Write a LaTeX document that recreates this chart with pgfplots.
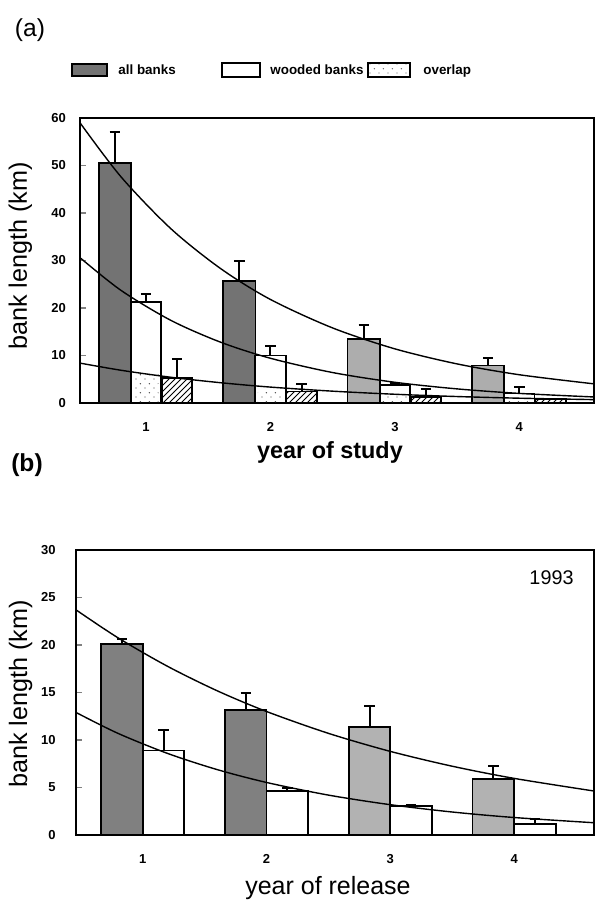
\documentclass[border=0pt]{standalone}
\usepackage{pgfplots}
\pgfplotsset{compat=1.18}
\usetikzlibrary{patterns}
\usepackage{fontspec}
\setmainfont{Liberation Sans}
\pgfdeclarepatternformonly{sparsedots}{\pgfpoint{-1pt}{-1pt}}{\pgfpoint{4pt}{4pt}}{\pgfpoint{4.5pt}{4.5pt}}{\pgfpathcircle{\pgfpoint{0.5pt}{0.5pt}}{0.35pt}\pgfpathcircle{\pgfpoint{2.7pt}{2.6pt}}{0.35pt}\pgfusepath{fill}}
\pgfplotsset{
  panel/.style={
    scale only axis, anchor=south west,
    axis line style={line width=0.8pt},
    xtick={1,2,3,4}, x tick style={draw=none},
    y tick style={line width=0.6pt}, major tick length=3pt,
    tick align=inside, ytick pos=left, xtick pos=bottom,
    /pgf/number format/assume math mode=true,
    ticklabel style={font=\bfseries\fontsize{6.5}{7}\selectfont},
    xticklabel style={yshift=-6pt},
    yticklabel style={xshift=-3.6pt},
    clip=true,
  },
  barstyle/.style={ybar, bar shift=0pt, draw=black, line width=0.9pt,
    error bars/y dir=plus, error bars/y explicit,
    error bars/error bar style={line width=1pt, black, solid},
    error bars/error mark options={rotate=90, line width=1pt, black, mark size=2.6pt}},
  curve/.style={smooth, black, line width=0.7pt, no markers},
}
\begin{document}
\begin{tikzpicture}
\useasboundingbox (0,0) rectangle (298pt,451pt);
% panel labels and legend
\node[font=\fontsize{12.3}{14}\selectfont] at (15pt,436pt) {(a)};
\node[font=\bfseries\fontsize{12.3}{14}\selectfont] at (13.5pt,218.5pt) {(b)};
\fill[black!55] (36pt,413pt) rectangle (53.5pt,419pt);
\draw[line width=0.6pt] (36pt,413pt) rectangle (53.5pt,419pt);
\node[anchor=base west, inner sep=0pt, font=\bfseries\fontsize{6.7}{8}\selectfont] at (59pt,413.5pt) {all banks};
\draw[line width=0.6pt] (111pt,412.5pt) rectangle (130pt,419.5pt);
\node[anchor=base west, inner sep=0pt, font=\bfseries\fontsize{6.7}{8}\selectfont] at (135pt,413.5pt) {wooded banks};
\draw[line width=0.6pt, pattern=sparsedots, pattern color=black!60] (184pt,412.5pt) rectangle (205pt,419.5pt);
\node[anchor=base west, inner sep=0pt, font=\bfseries\fontsize{6.7}{8}\selectfont] at (211.5pt,413.5pt) {overlap};
% ---------------- panel (a)
\begin{axis}[panel, at={(40pt,249.5pt)}, width=257pt, height=142.5pt,
  xmin=0.47, xmax=4.6, ymin=0, ymax=60, ytick={0,10,...,60},
  xlabel={year of study},
  xlabel style={at={(axis description cs:0.4864,-0.172)}, anchor=center, font=\bfseries\fontsize{11.7}{13}\selectfont},
  ylabel={bank length (km)},
  ylabel style={at={(axis description cs:-0.1158,0.516)}, anchor=center, rotate=0, font=\fontsize{12.6}{14}\selectfont},
]
% all banks
\addplot[barstyle, bar width=0.26, fill=black!55] coordinates {(0.75,50.6) +- (0,6.4) (1.75,25.7) +- (0,4.3)};
\addplot[barstyle, bar width=0.26, fill=black!32] coordinates {(2.75,13.5) +- (0,2.9) (3.75,7.9) +- (0,1.6)};
% wooded banks
\addplot[barstyle, bar width=0.245, fill=white] coordinates {(1,21.3) +- (0,1.7) (2,10.0) +- (0,1.9) (3,3.8) +- (0,0.5) (4,2.0) +- (0,1.3)};
% overlap (dotted lower part of the wooded bars)
\addplot[ybar, bar shift=0pt, bar width=0.2, draw=none, pattern=sparsedots, pattern color=black!70] coordinates {(1,6.1) (2,3.0) (3,2.0) (4,1.0)};
% hatched
\addplot[barstyle, bar width=0.245, pattern=north east lines, pattern color=black] coordinates {(1.25,5.2) +- (0,4.1) (2.25,2.4) +- (0,1.7) (3.25,1.3) +- (0,1.6) (4.25,0.8) +- (0,0)};
% fitted curves
\addplot[curve] coordinates {(0.47,59.0) (0.8,47.6) (1.2,36.7) (1.6,28.3) (2.0,21.8) (2.5,15.8) (3.0,11.4) (3.5,8.23) (4.0,5.95) (4.6,4.03)};
\addplot[curve] coordinates {(0.47,30.6) (0.8,23.7) (1.2,17.4) (1.6,12.8) (2.0,9.42) (2.5,6.41) (3.0,4.36) (3.5,2.97) (4.0,2.02) (4.6,1.27)};
\addplot[curve] coordinates {(0.47,8.4) (0.8,6.89) (1.2,5.42) (1.6,4.27) (2.0,3.35) (2.5,2.49) (3.0,1.84) (3.5,1.36) (4.0,1.01) (4.6,0.71)};
\end{axis}
% ---------------- panel (b)
\begin{axis}[panel, at={(38pt,33.5pt)}, width=259pt, height=142.5pt,
  xmin=0.461, xmax=4.645, ymin=0, ymax=30, ytick={0,5,...,30},
  yticklabel style={xshift=-3.1pt},
  xlabel={year of release},
  xlabel style={at={(axis description cs:0.4865,-0.1877)}, anchor=center, font=\fontsize{12.5}{14}\selectfont},
  ylabel={bank length (km)},
  ylabel style={at={(axis description cs:-0.107,0.495)}, anchor=center, rotate=0, font=\fontsize{12.6}{14}\selectfont},
]
\addplot[barstyle, bar width=0.336, fill=black!50] coordinates {(0.832,20.1) +- (0,0.5) (1.832,13.2) +- (0,1.8)};
\addplot[barstyle, bar width=0.336, fill=black!30] coordinates {(2.832,11.4) +- (0,2.2) (3.832,5.9) +- (0,1.4)};
\addplot[barstyle, bar width=0.336, fill=white] coordinates {(1.168,8.9) +- (0,2.15) (2.168,4.6) +- (0,0.3) (3.168,3.05) +- (0,0.15) (4.168,1.2) +- (0,0.5)};
\addplot[curve] coordinates {(0.461,23.7) (0.8,20.76) (1.2,17.76) (1.6,15.19) (2.0,13.0) (2.5,10.70) (3.0,8.80) (3.5,7.24) (4.0,5.96) (4.645,4.63)};
\addplot[curve] coordinates {(0.461,12.9) (0.8,10.70) (1.2,8.59) (1.6,6.89) (2.0,5.53) (2.5,4.20) (3.0,3.19) (3.5,2.42) (4.0,1.84) (4.645,1.29)};
\node[font=\fontsize{9.9}{11}\selectfont] at (rel axis cs:0.918,0.903) {1993};
\end{axis}
\end{tikzpicture}
\end{document}
